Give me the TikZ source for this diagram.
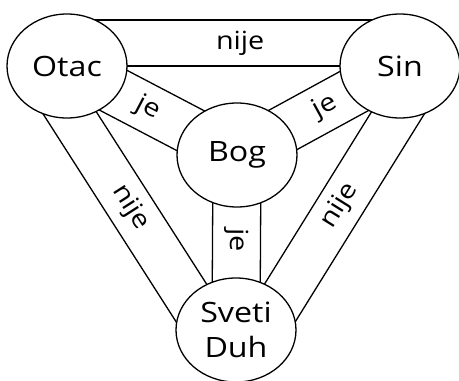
\documentclass[tikz,border=0pt]{standalone}
\usepackage{fontspec}
\setmainfont{Open Sans}[FakeStretch=1.15]
\usetikzlibrary{calc,backgrounds,shapes.geometric}

\begin{document}
\begin{tikzpicture}[x=1pt, y=-1pt, line width=1.3pt,
	osoba/.style={ellipse, draw, fill=white, minimum width=120pt, minimum height=104pt, inner sep=0pt, align=center, font=\fontsize{28}{35}\selectfont},
	traka/.style={draw, line width=1.3pt},
	veza/.style={sloped, inner sep=0pt, font=\fontsize{25}{30}\selectfont}]

		\useasboundingbox (0,0) rectangle (459,381);

		\node[osoba] (Otac) at (67,66) {Otac};
		\node[osoba] (Sin) at (400,66) {Sin};
		\node[osoba] (Bog) at (237,155) {Bog};
		\node[osoba] (SD) at (236,330) {Sveti\\Duh};

		\begin{scope}[on background layer]
		\foreach \a/\b in {Otac/Bog,Sin/Bog,Bog/SD}
		{
		\path[traka] ($(\a.center)!24pt!90:(\b.center)$) -- ($(\b.center)!24pt!-90:(\a.center)$);
		\path[traka] ($(\a.center)!24pt!-90:(\b.center)$) -- ($(\b.center)!24pt!90:(\a.center)$);
		}
		\foreach \a/\b/\p in {Otac/Sin/0.52,Sin/SD/0.485,SD/Otac/0.51}
		{
		\path[traka] (\a.center) -- (\b.center);
		\path[traka] ($(\a.center)!46pt!90:(\b.center)$) -- ($(\b.center)!46pt!-90:(\a.center)$);
		\path ($(\a.center)!23pt!90:(\b.center)$) -- ($(\b.center)!23pt!-90:(\a.center)$) node[veza, pos=\p] {nije};
		}
		\end{scope}

		\path (Otac.center) -- (Bog.center) node[veza, pos=0.476] {je};
		\path (Sin.center) -- (Bog.center) node[veza, pos=0.46] {je};
		\path (Bog.center) -- (SD.center) node[veza, allow upside down, pos=0.486] {je};

\end{tikzpicture}
\end{document}
